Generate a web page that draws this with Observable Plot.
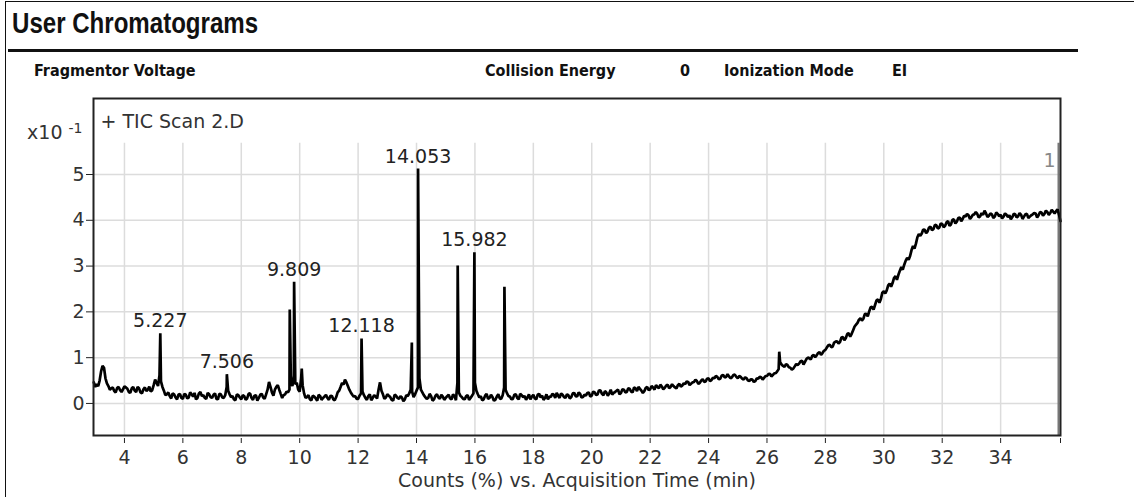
<!DOCTYPE html>
<html>
<head>
<meta charset="utf-8">
<script src="https://cdn.jsdelivr.net/npm/d3@7"></script>
<script src="https://cdn.jsdelivr.net/npm/@observablehq/plot@0.6"></script>
<style>
  html, body { margin: 0; padding: 0; background: #fff; }
  #page { position: relative; width: 1134px; height: 497px; overflow: hidden; background: #fff; }
  #box { position: absolute; left: 5px; top: 1px; width: 1300px; height: 700px; border-left: 1.5px solid #111; border-top: 1.5px solid #111; }
  #title { position: absolute; left: 12px; top: 9px; font-family: "Liberation Sans", Arial, sans-serif; font-weight: bold; font-size: 29px; line-height: 1; color: #111; white-space: nowrap; transform: scaleX(0.83); transform-origin: 0 0; }
  #rule { position: absolute; left: 8px; top: 49px; width: 1070px; height: 3px; background: #111; }
  .meta { position: absolute; top: 63px; font-family: "DejaVu Sans Condensed", "DejaVu Sans", sans-serif; font-weight: bold; font-size: 16px; line-height: 1; color: #111; white-space: nowrap; }
  #chart { position: absolute; left: 0; top: 80px; }
</style>
</head>
<body>
<div id="page">
  <div id="box"></div>
  <div id="title">User Chromatograms</div>
  <div id="rule"></div>
  <div class="meta" style="left:34px">Fragmentor Voltage</div>
  <div class="meta" style="left:485px">Collision Energy</div>
  <div class="meta" style="left:680px">0</div>
  <div class="meta" style="left:724px">Ionization Mode</div>
  <div class="meta" style="left:892px">EI</div>
  <div id="chart"></div>
</div>
<script>
// ---- Acquisition (x) ----
const scanStart = 2.95;   // min, first sample of "signal"
const midStart = 3.00;    // min, first sample of "signalMid"
const scanStep = 0.1;     // min between samples in each array
const xStart = 2.94, xEnd = 36.05;
const xTicks = [4, 6, 8, 10, 12, 14, 16, 18, 20, 22, 24, 26, 28, 30, 32, 34];

// ---- Counts (x10^-1) ----
const yMin = -0.7, yMax = 6.66, yGridTop = 5.68;
const yTicks = [0, 1, 2, 3, 4, 5];

// TIC signal at X.05, X.15 ..., one row per minute
const signal = [
  0.46,
  0.42, 0.50, 0.82, 0.55, 0.38, 0.33, 0.27, 0.34, 0.29, 0.31,   // 3
  0.35, 0.25, 0.33, 0.28, 0.36, 0.24, 0.31, 0.27, 0.37, 0.29,   // 4
  0.52, 0.38, 0.48, 0.28, 0.20, 0.16, 0.22, 0.13, 0.19, 0.12,   // 5
  0.21, 0.11, 0.24, 0.15, 0.09, 0.22, 0.16, 0.12, 0.23, 0.14,   // 6
  0.19, 0.10, 0.21, 0.13, 0.18, 0.28, 0.14, 0.09, 0.20, 0.13,   // 7
  0.18, 0.08, 0.21, 0.12, 0.17, 0.06, 0.19, 0.13, 0.20, 0.47,   // 8
  0.24, 0.30, 0.40, 0.21, 0.18, 0.26, 0.30, 0.38, 0.42, 0.30,   // 9
  0.55, 0.22, 0.14, 0.09, 0.17, 0.11, 0.19, 0.08, 0.15, 0.12,   // 10
  0.16, 0.09, 0.14, 0.28, 0.45, 0.52, 0.38, 0.24, 0.15, 0.10,   // 11
  0.17, 0.26, 0.12, 0.16, 0.07, 0.18, 0.11, 0.46, 0.20, 0.13,   // 12
  0.17, 0.08, 0.19, 0.12, 0.16, 0.05, 0.18, 0.22, 0.26, 0.20,   // 13
  0.35, 0.30, 0.18, 0.10, 0.21, 0.06, 0.17, 0.13, 0.19, 0.08,   // 14
  0.16, 0.11, 0.20, 0.07, 0.24, 0.14, 0.09, 0.18, 0.12, 0.22,   // 15
  0.28, 0.13, 0.07, 0.17, 0.10, 0.19, 0.06, 0.15, 0.11, 0.18,   // 16
  0.30, 0.16, 0.09, 0.19, 0.12, 0.21, 0.14, 0.08, 0.20, 0.15,   // 17
  0.11, 0.19, 0.13, 0.08, 0.20, 0.15, 0.21, 0.12, 0.17, 0.22,   // 18
  0.14, 0.20, 0.11, 0.22, 0.16, 0.24, 0.13, 0.19, 0.23, 0.15,   // 19
  0.26, 0.18, 0.29, 0.21, 0.27, 0.17, 0.30, 0.23, 0.28, 0.20,   // 20
  0.31, 0.24, 0.33, 0.26, 0.35, 0.27, 0.32, 0.23, 0.34, 0.29,   // 21
  0.38, 0.30, 0.36, 0.41, 0.31, 0.39, 0.33, 0.42, 0.35, 0.40,   // 22
  0.37, 0.44, 0.48, 0.40, 0.46, 0.52, 0.43, 0.50, 0.47, 0.54,   // 23
  0.49, 0.56, 0.60, 0.53, 0.61, 0.57, 0.64, 0.55, 0.62, 0.58,   // 24
  0.60, 0.54, 0.57, 0.50, 0.53, 0.47, 0.55, 0.58, 0.52, 0.60,   // 25
  0.64, 0.59, 0.66, 0.70, 0.90, 0.82, 0.86, 0.79, 0.74, 0.81,   // 26
  0.84, 0.92, 0.85, 0.97, 0.99, 1.04, 1.01, 1.10, 1.06, 1.15,   // 27
  1.22, 1.28, 1.24, 1.35, 1.31, 1.44, 1.38, 1.52, 1.46, 1.60,   // 28
  1.72, 1.83, 1.81, 1.95, 1.90, 2.10, 2.05, 2.25, 2.20, 2.42,   // 29
  2.40, 2.58, 2.55, 2.74, 2.70, 2.90, 2.92, 3.12, 3.14, 3.35,   // 30
  3.38, 3.63, 3.66, 3.80, 3.72, 3.84, 3.78, 3.90, 3.82, 3.93,   // 31
  3.85, 3.96, 3.88, 4.01, 3.93, 4.05, 3.98, 4.10, 4.14, 4.03,   // 32
  4.12, 4.18, 4.06, 4.16, 4.21, 4.07, 4.15, 4.05, 4.17, 4.09,   // 33
  4.04, 4.15, 4.07, 4.02, 4.14, 4.06, 4.16, 4.03, 4.13, 4.05,   // 34
  4.11, 4.16, 4.06, 4.18, 4.10, 4.21, 4.12, 4.23, 4.15, 4.24,   // 35
  3.98
];

// TIC signal at X.00, X.10 ..., one row per minute
const signalMid = [
  0.36, 0.38, 0.70, 0.78, 0.44, 0.30, 0.35, 0.24, 0.36, 0.25,   // 3
  0.37, 0.32, 0.23, 0.36, 0.25, 0.33, 0.22, 0.35, 0.30, 0.26,   // 4
  0.40, 0.45, 0.62, 0.36, 0.18, 0.24, 0.11, 0.20, 0.09, 0.21,   // 5
  0.10, 0.19, 0.13, 0.20, 0.23, 0.12, 0.25, 0.18, 0.10, 0.20,   // 6
  0.12, 0.22, 0.09, 0.20, 0.12, 0.36, 0.20, 0.16, 0.07, 0.18,   // 7
  0.09, 0.16, 0.11, 0.22, 0.08, 0.18, 0.12, 0.21, 0.10, 0.30,   // 8
  0.36, 0.17, 0.36, 0.30, 0.12, 0.20, 0.24, 0.45, 0.60, 0.45,   // 9
  0.26, 0.40, 0.12, 0.18, 0.07, 0.15, 0.06, 0.16, 0.12, 0.19,   // 10
  0.08, 0.17, 0.07, 0.24, 0.36, 0.41, 0.46, 0.30, 0.19, 0.16,   // 11
  0.10, 0.22, 0.18, 0.08, 0.20, 0.12, 0.15, 0.30, 0.28, 0.10,   // 12
  0.20, 0.14, 0.06, 0.17, 0.10, 0.13, 0.09, 0.16, 0.30, 0.14,   // 13
  0.28, 0.55, 0.24, 0.14, 0.12, 0.16, 0.09, 0.20, 0.10, 0.15,   // 14
  0.12, 0.19, 0.09, 0.16, 0.45, 0.17, 0.10, 0.16, 0.08, 0.17,   // 15
  0.45, 0.20, 0.16, 0.09, 0.21, 0.12, 0.14, 0.08, 0.20, 0.10,   // 16
  0.35, 0.22, 0.15, 0.10, 0.20, 0.09, 0.18, 0.16, 0.13, 0.09,   // 17
  0.19, 0.09, 0.21, 0.17, 0.12, 0.09, 0.14, 0.19, 0.23, 0.12,   // 18
  0.19, 0.12, 0.18, 0.14, 0.23, 0.15, 0.21, 0.14, 0.17, 0.24,   // 19
  0.17, 0.24, 0.20, 0.28, 0.18, 0.24, 0.22, 0.19, 0.25, 0.30,   // 20
  0.23, 0.30, 0.25, 0.32, 0.24, 0.33, 0.36, 0.28, 0.27, 0.36,   // 21
  0.31, 0.35, 0.40, 0.33, 0.37, 0.34, 0.41, 0.36, 0.38, 0.33,   // 22
  0.43, 0.39, 0.42, 0.47, 0.43, 0.47, 0.49, 0.45, 0.53, 0.48,   // 23
  0.55, 0.51, 0.55, 0.58, 0.54, 0.62, 0.58, 0.59, 0.57, 0.63,   // 24
  0.55, 0.58, 0.52, 0.55, 0.49, 0.52, 0.49, 0.54, 0.57, 0.56,   // 25
  0.60, 0.65, 0.62, 0.66, 0.75, 0.85, 0.80, 0.84, 0.78, 0.76,   // 26
  0.86, 0.87, 0.93, 0.91, 1.00, 0.96, 1.06, 1.05, 1.12, 1.10,   // 27
  1.17, 1.27, 1.23, 1.33, 1.36, 1.34, 1.45, 1.43, 1.53, 1.52,   // 28
  1.68, 1.76, 1.86, 1.85, 1.96, 2.01, 2.11, 2.15, 2.27, 2.28,   // 29
  2.45, 2.47, 2.62, 2.63, 2.78, 2.81, 2.98, 3.03, 3.18, 3.22,   // 30
  3.44, 3.49, 3.70, 3.71, 3.79, 3.76, 3.86, 3.81, 3.89, 3.84,   // 31
  3.92, 3.88, 3.98, 3.91, 4.02, 3.97, 4.06, 4.03, 4.08, 4.11,   // 32
  4.07, 4.13, 4.14, 4.09, 4.12, 4.15, 4.10, 4.13, 4.08, 4.14,   // 33
  4.12, 4.08, 4.12, 4.11, 4.07, 4.13, 4.09, 4.12, 4.08, 4.14,   // 34
  4.08, 4.13, 4.15, 4.11, 4.17, 4.14, 4.18, 4.16, 4.19, 4.20,   // 35
  4.12
];

// Peak apexes (retention time, height)
const peakTimes   = [5.227, 7.506, 9.66, 9.809, 10.07, 12.118, 13.84, 14.053, 15.41, 15.982, 17.01, 26.42];
const peakHeights = [1.53,  0.64,  2.05, 2.66,  0.76,  1.42,   1.33,  5.13,   3.01,  3.30,   2.55,  1.13];
const peakLabels  = ["5.227", "7.506", "", "9.809", "", "12.118", "", "14.053", "", "15.982", "", ""];

const traceName = "+ TIC Scan 2.D";
const yExponentBase = "x10";
const yExponent = "-1";
const cursorLabel = "1";
const xTitle = "Counts (%) vs. Acquisition Time (min)";

// ---- build table ----
const samples = [
  ...signal.map((v, i) => ({t: +(scanStart + i * scanStep).toFixed(3), v})),
  ...signalMid.map((v, i) => ({t: +(midStart + i * scanStep).toFixed(3), v}))
];
const apexes = peakTimes.map((t, i) => ({t, v: peakHeights[i], label: peakLabels[i]}));
const series = [...samples, ...apexes].sort((a, b) => a.t - b.t);
const labeled = apexes.filter(d => d.label);

const gridColor = "#dcdcdc";
const textColor = "#333";

const chart = Plot.plot({
  width: 1134,
  height: 417,
  marginTop: 18,
  marginLeft: 93,
  marginRight: 74,
  marginBottom: 62,
  x: {domain: [xStart, xEnd], label: null},
  y: {domain: [yMin, yMax], label: null},
  style: {
    fontFamily: "'DejaVu Sans', sans-serif",
    fontSize: "19px",
    color: textColor,
    background: "transparent"
  },
  marks: [
    Plot.gridY(yTicks, {stroke: gridColor, strokeOpacity: 1, strokeWidth: 1.5}),
    Plot.ruleX(xTicks, {y1: yMin, y2: yGridTop, stroke: gridColor, strokeWidth: 1.5}),
    Plot.ruleX([xEnd], {y1: yMin, y2: yGridTop, stroke: "#777", strokeWidth: 2, dx: -2}),
    Plot.line(series, {x: "t", y: "v", stroke: "#000", strokeWidth: 2.7, strokeLinejoin: "miter"}),
    Plot.text(labeled, {x: "t", y: "v", text: "label", dy: -6, lineAnchor: "bottom", textAnchor: "middle", fill: "#222"}),
    Plot.frame({stroke: "#222", strokeWidth: 2}),
    Plot.axisY(yTicks, {tickSize: 7, tickPadding: 2, stroke: "#222", label: null}),
    Plot.axisX([...xTicks, xEnd], {tickSize: 5, dy: 3, tickPadding: 7, stroke: "#222",
      tickFormat: d => xTicks.includes(d) ? String(d) : "", label: null}),
    Plot.text([traceName], {text: d => d, frameAnchor: "top-left", textAnchor: "start", lineAnchor: "bottom", dx: 7, dy: 29, fill: textColor}),
    Plot.text([yExponentBase], {text: d => d, frameAnchor: "top-left", textAnchor: "end", lineAnchor: "bottom", dx: -31, dy: 40, fill: textColor}),
    Plot.text([yExponent], {text: d => d, frameAnchor: "top-left", textAnchor: "start", lineAnchor: "bottom", dx: -25, dy: 34, fontSize: 14, fill: textColor}),
    Plot.text([cursorLabel], {text: d => d, frameAnchor: "top-right", textAnchor: "end", lineAnchor: "bottom", dx: -5, dy: 68, fill: "#888"}),
    Plot.text([xTitle], {text: d => d, frameAnchor: "bottom", textAnchor: "middle", lineAnchor: "bottom", dy: 51, fill: textColor})
  ]
});
document.getElementById("chart").appendChild(chart);
</script>
</body>
</html>
